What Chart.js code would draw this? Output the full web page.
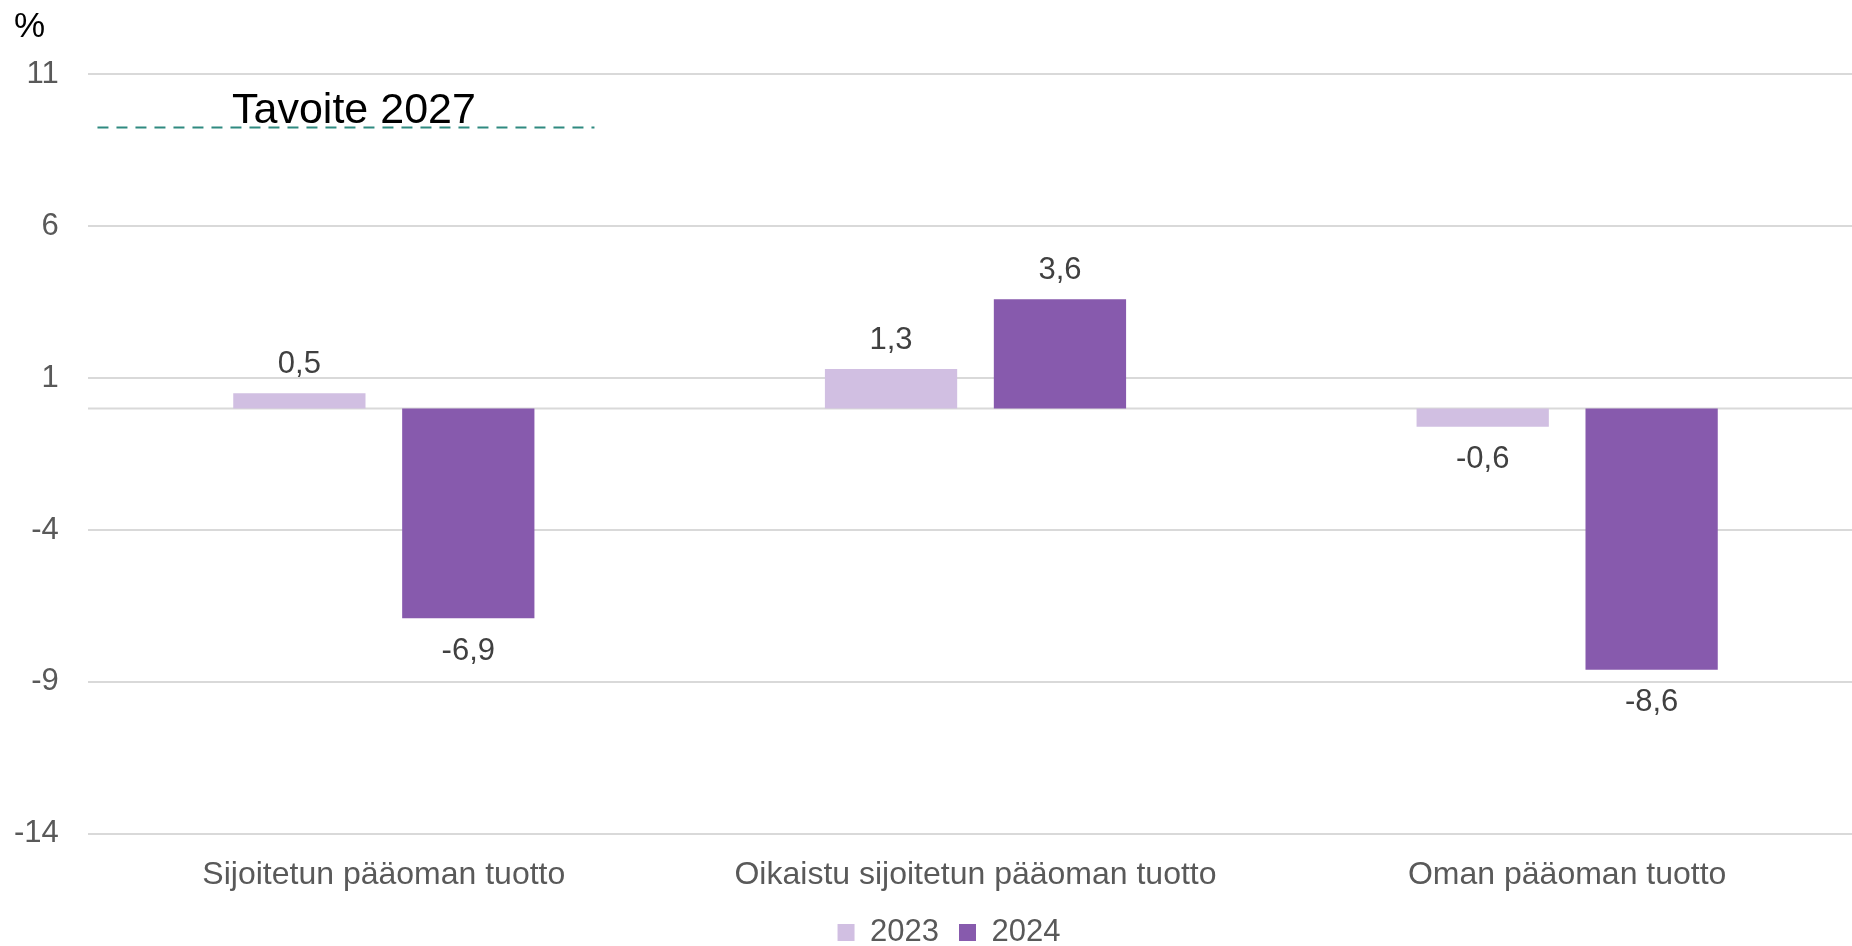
<!DOCTYPE html>
<html>
<head>
<meta charset="utf-8">
<script src="https://cdn.jsdelivr.net/npm/chart.js@4/dist/chart.umd.min.js"></script>
<style>
  html, body { margin: 0; padding: 0; background: #fff; overflow: hidden; }
  #wrap { position: relative; width: 1863px; height: 958px; }
</style>
</head>
<body>
<div id="wrap"><canvas id="c"></canvas></div>
<script>
const categories = ["Sijoitetun pääoman tuotto", "Oikaistu sijoitetun pääoman tuotto", "Oman pääoman tuotto"];
const seriesNames = ["2023", "2024"];
const values2023 = [0.5, 1.3, -0.6];
const values2024 = [-6.9, 3.6, -8.6];
const valueLabels2023 = ["0,5", "1,3", "-0,6"];
const valueLabels2024 = ["-6,9", "3,6", "-8,6"];
const yTicks = [-14, -9, -4, 1, 6, 11];
const targetValue = 9.25;
const targetSpan = [-0.484, 0.356];
const targetLabel = "Tavoite 2027";
const unitLabel = "%";

const FONT = "'Liberation Sans', Arial, sans-serif";

const zeroLinePlugin = {
  id: 'zeroLine',
  beforeDatasetsDraw(chart) {
    const {ctx, chartArea} = chart;
    const y = chart.scales.y.getPixelForValue(0);
    ctx.save();
    ctx.strokeStyle = '#D9D9D9';
    ctx.lineWidth = 2;
    ctx.beginPath();
    ctx.moveTo(chartArea.left, y);
    ctx.lineTo(chartArea.right, y);
    ctx.stroke();
    ctx.restore();
  }
};

const labelsPlugin = {
  id: 'valueLabels',
  afterDatasetsDraw(chart) {
    const {ctx} = chart;
    ctx.save();
    ctx.font = `31px ${FONT}`;
    ctx.fillStyle = '#404040';
    ctx.textAlign = 'center';
    ctx.textBaseline = 'middle';
    const texts = [valueLabels2023, valueLabels2024];
    [0, 1].forEach(di => {
      const meta = chart.getDatasetMeta(di);
      meta.data.forEach((el, i) => {
        const v = chart.data.datasets[di].data[i].y;
        const y = v >= 0 ? el.y - 29 : el.y + 33;
        ctx.fillText(texts[di][i], el.x, y);
      });
    });
    const tm = chart.getDatasetMeta(2);
    if (tm.data.length === 2) {
      const p0 = tm.data[0], p1 = tm.data[1];
      ctx.font = `43px ${FONT}`;
      ctx.fillStyle = '#000000';
      ctx.textBaseline = 'alphabetic';
      ctx.fillText(targetLabel, (p0.x + p1.x) / 2 + 8, p0.y - 5);
    }
    ctx.font = `35px ${FONT}`;
    ctx.textAlign = 'left';
    ctx.textBaseline = 'middle';
    ctx.fillStyle = '#000000';
    ctx.fillText(unitLabel, 14, 27);
    ctx.restore();
  }
};

const chart = new Chart(document.getElementById('c'), {
  type: 'bar',
  data: {
    datasets: [
      { type: 'bar', label: seriesNames[0], data: values2023.map((y, i) => ({x: i, y})), backgroundColor: '#D1BFE2' },
      { type: 'bar', label: seriesNames[1], data: values2024.map((y, i) => ({x: i, y})), backgroundColor: '#875AAD' },
      { type: 'line', label: targetLabel, data: targetSpan.map(x => ({x, y: targetValue})),
        borderColor: '#2F8A80', borderWidth: 2, borderDash: [11, 8],
        pointRadius: 0, fill: false }
    ]
  },
  options: {
    responsive: true,
    maintainAspectRatio: false,
    animation: false,
    layout: { padding: { left: 35, right: 0, top: 74.4, bottom: 0 } },
    datasets: { bar: { categoryPercentage: 0.571, barPercentage: 0.783 } },
    scales: {
      x: {
        type: 'linear',
        offset: false,
        min: -0.5,
        max: categories.length - 0.5,
        afterBuildTicks(scale) { scale.ticks = categories.map((c, i) => ({ value: i })); },
        afterFit(scale) { scale.height = 63.2; },
        grid: { display: false, drawTicks: false, offset: false },
        border: { display: false },
        ticks: { color: '#595959', font: { family: FONT, size: 32 }, padding: 22.5, maxRotation: 0, autoSkip: false,
          callback: v => categories[v] }
      },
      y: {
        type: 'linear',
        min: yTicks[0],
        max: yTicks[yTicks.length - 1],
        afterBuildTicks(scale) { scale.ticks = yTicks.map(v => ({ value: v })); },
        afterFit(scale) { scale.width = 53; },
        grid: { color: '#D9D9D9', lineWidth: 2, drawTicks: false },
        border: { display: false },
        ticks: { color: '#595959', font: { family: FONT, size: 31 }, mirror: true, crossAlign: 'far', padding: -74,
          callback: v => String(v) }
      }
    },
    plugins: {
      title: { display: false },
      legend: {
        position: 'bottom',
        labels: {
          color: '#595959', font: { family: FONT, size: 31 }, boxWidth: 17, boxHeight: 17, padding: 20,
          filter: item => item.datasetIndex < 2
        }
      },
      tooltip: { enabled: false }
    }
  },
  plugins: [zeroLinePlugin, labelsPlugin]
});
</script>
</body>
</html>
